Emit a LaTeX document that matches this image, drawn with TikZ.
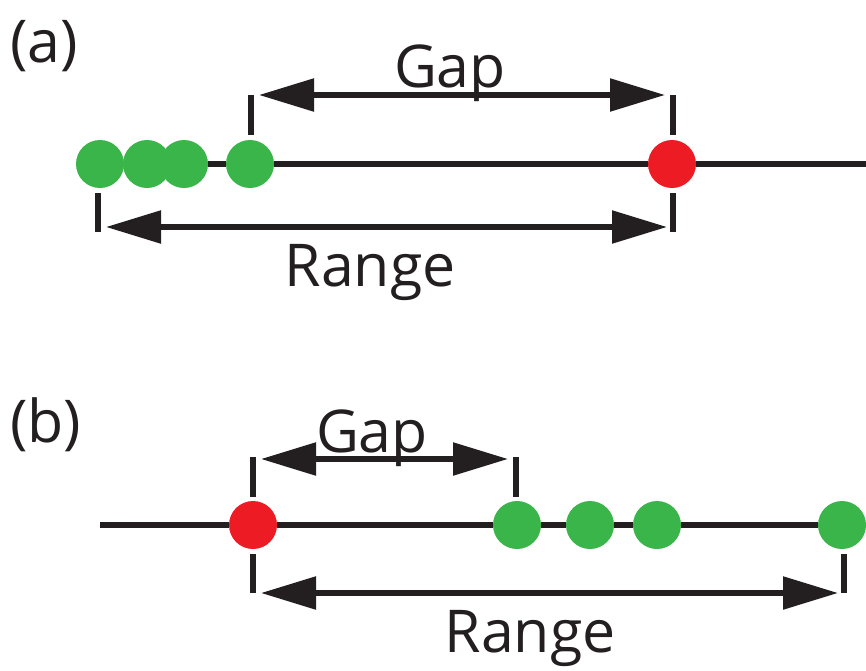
\documentclass[tikz,border=0pt]{standalone}
\usepackage{fontspec}
\setmainfont{Open Sans}
\usetikzlibrary{arrows.meta}
\definecolor{dotgreen}{RGB}{58,181,74}
\definecolor{dotred}{RGB}{237,28,36}
\definecolor{ink}{RGB}{35,31,32}
\tikzset{
  gdot/.style={circle,fill=dotgreen,minimum size=48pt,inner sep=0pt},
  rdot/.style={circle,fill=dotred,minimum size=48pt,inner sep=0pt},
  axis/.style={draw=ink,line width=5.5pt},
  tick/.style={draw=ink,line width=5.5pt},
  dim/.style={draw=ink,line width=5.5pt,{Triangle[length=55pt,width=32pt]}-{Triangle[length=55pt,width=32pt]}},
  lbl/.style={text=ink,font=\fontsize{59}{61}\selectfont,inner sep=0pt}
}
\begin{document}
\begin{tikzpicture}[x=1pt,y=-1pt]
\useasboundingbox (0,0) rectangle (866,670);
% panel (a)
\node[lbl,anchor=base west] (la) at (10,62) {(a)};
\node[gdot] (a1) at (100,164) {};
\node[gdot] (a2) at (147,164) {};
\node[gdot] (a3) at (184,164) {};
\node[gdot] (a4) at (250,164) {};
\node[rdot] (ar) at (672,164) {};
\coordinate (aend) at (866,164);
\draw[axis] (a3.east) -- (a4.west);
\draw[axis] (a4.east) -- (ar.west);
\draw[axis] (ar.east) -- (aend);
% ticks (a)
\coordinate (at1) at (251,95);  \coordinate (at1b) at (251,135);
\coordinate (at2) at (673,95);  \coordinate (at2b) at (673,135);
\coordinate (at3) at (98,193);  \coordinate (at3b) at (98,232);
\coordinate (at4) at (673,193); \coordinate (at4b) at (673,232);
\draw[tick] (at1) -- (at1b);
\draw[tick] (at2) -- (at2b);
\draw[tick] (at3) -- (at3b);
\draw[tick] (at4) -- (at4b);
\coordinate (ag1) at (259,95); \coordinate (ag2) at (665,95);
\draw[dim] (ag1) -- (ag2);
\coordinate (ar1) at (106,227); \coordinate (ar2) at (667,227);
\draw[dim] (ar1) -- (ar2);
\node[lbl,anchor=base] (gapa) at (450,87) {Gap};
\node[lbl,anchor=base] (rangea) at (370,286) {Range};
% panel (b)
\node[lbl,anchor=base west] (lb) at (10,442) {(b)};
\coordinate (bstart) at (100,525);
\node[rdot] (br) at (253,525) {};
\node[gdot] (b1) at (517,525) {};
\node[gdot] (b2) at (590,525) {};
\node[gdot] (b3) at (657,525) {};
\node[gdot] (b4) at (842,525) {};
\draw[axis] (bstart) -- (br.west);
\draw[axis] (br.east) -- (b1.west);
\draw[axis] (b1.east) -- (b2.west);
\draw[axis] (b2.east) -- (b3.west);
\draw[axis] (b3.east) -- (b4.west);
\coordinate (bt1) at (253,457);  \coordinate (bt1b) at (253,497);
\coordinate (bt2) at (516,457);  \coordinate (bt2b) at (516,497);
\coordinate (bt3) at (253,554);  \coordinate (bt3b) at (253,593);
\coordinate (bt4) at (844,554);  \coordinate (bt4b) at (844,593);
\draw[tick] (bt1) -- (bt1b);
\draw[tick] (bt2) -- (bt2b);
\draw[tick] (bt3) -- (bt3b);
\draw[tick] (bt4) -- (bt4b);
\coordinate (bg1) at (261,459); \coordinate (bg2) at (508,459);
\draw[dim] (bg1) -- (bg2);
\coordinate (bra1) at (261,593); \coordinate (bra2) at (838,593);
\draw[dim] (bra1) -- (bra2);
\node[lbl,anchor=base] (gapb) at (372,452) {Gap};
\node[lbl,anchor=base] (rangeb) at (530,652) {Range};
\end{tikzpicture}
\end{document}
